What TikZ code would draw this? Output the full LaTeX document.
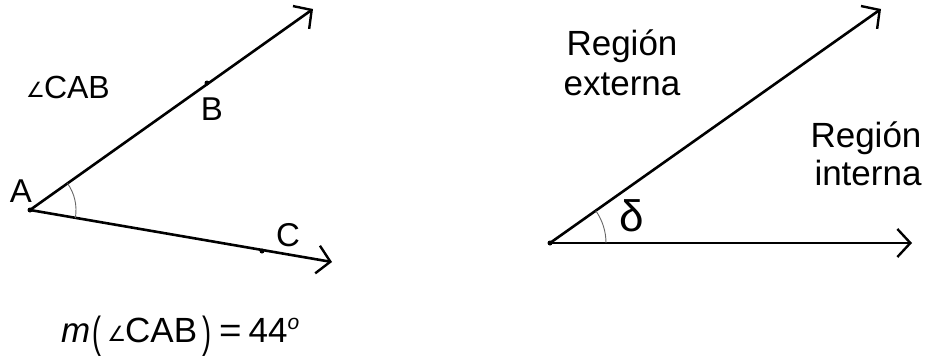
\documentclass[tikz,border=0pt]{standalone}
\usepackage{fontspec}
\setmainfont{Liberation Sans}
\newfontfamily\symfont{DejaVu Sans}
\usetikzlibrary{arrows.meta}
\tikzset{
  ray/.style={line width=2.6pt, -{Straight Barb[length=13pt,width=28pt,line width=2.4pt]}},
  anglearc/.style={line width=0.9pt, draw=black!60},
  ptdot/.style={circle, fill=black, inner sep=0pt, minimum size=5pt},
  lbl/.style={inner sep=0pt, font=\fontsize{33}{37}\selectfont},
  reg/.style={inner sep=0pt, font=\fontsize{35}{40}\selectfont},
}
\newcommand{\angsym}{{\symfont\fontsize{21}{21}\selectfont\raisebox{0.5pt}{∠}}}
\newcommand{\bigparen}[1]{\raisebox{-5pt}{\scalebox{0.9}[1.45]{\fontsize{30}{30}\selectfont #1}}}
\begin{document}
\begin{tikzpicture}[x=1pt,y=-1pt]
\useasboundingbox (0,0) rectangle (932,356);
% left figure
\coordinate (A) at (30,210);
\coordinate (B) at (207,83);
\coordinate (C) at (262,251);
\coordinate (Btip) at (313,9);
\coordinate (Ctip) at (332,262);
\draw[ray] (A) -- (Btip);
\draw[ray] (A) -- (Ctip);
\draw[anglearc] ([shift={(9.8:46)}]A) arc[start angle=9.8, end angle=-35.3, radius=46];
\node[ptdot] (dA) at (A) {};
\node[ptdot] (dB) at (B) {};
\node[ptdot] (dC) at (C) {};
\node[lbl, anchor=base] (lA) at (21,202) {A};
\node[lbl, anchor=base] (lB) at (212,120) {B};
\node[lbl, anchor=base] (lC) at (288,246) {C};
\node[inner sep=0pt, anchor=base west, font=\fontsize{32}{36}\selectfont] (name) at (26,98) {\angsym\hspace{-1pt}CAB};
\node[inner sep=0pt, anchor=base west, font=\fontsize{35}{40}\selectfont] (meas) at (61,342)
  {\textit{m}\hspace{2pt}\bigparen{(}\hspace{6pt}\angsym\hspace{-1pt}CAB\hspace{5pt}\bigparen{)}\hspace{8pt}\scalebox{1.1}[1]{=}\hspace{7pt}44\raisebox{13pt}{\fontsize{21}{21}\selectfont\itshape o}};
% right figure
\coordinate (V) at (550,243);
\coordinate (Utip) at (881,9);
\coordinate (Htip) at (912,243);
\draw[ray] (V) -- (Utip);
\draw[ray] (V) -- (Htip);
\draw[anglearc] ([shift={(0:56)}]V) arc[start angle=0, end angle=-35.2, radius=56];
\node[ptdot] (dV) at (V) {};
\node[inner sep=0pt, anchor=base, font=\fontsize{44}{44}\selectfont] (delta) at (632,231) {δ};
\node[reg, anchor=base] (ext1) at (622,55) {Región};
\node[reg, anchor=base] (ext2) at (622,95) {externa};
\node[reg, anchor=base] (int1) at (866,147) {Región};
\node[reg, anchor=base] (int2) at (868,185) {interna};
\end{tikzpicture}
\end{document}
